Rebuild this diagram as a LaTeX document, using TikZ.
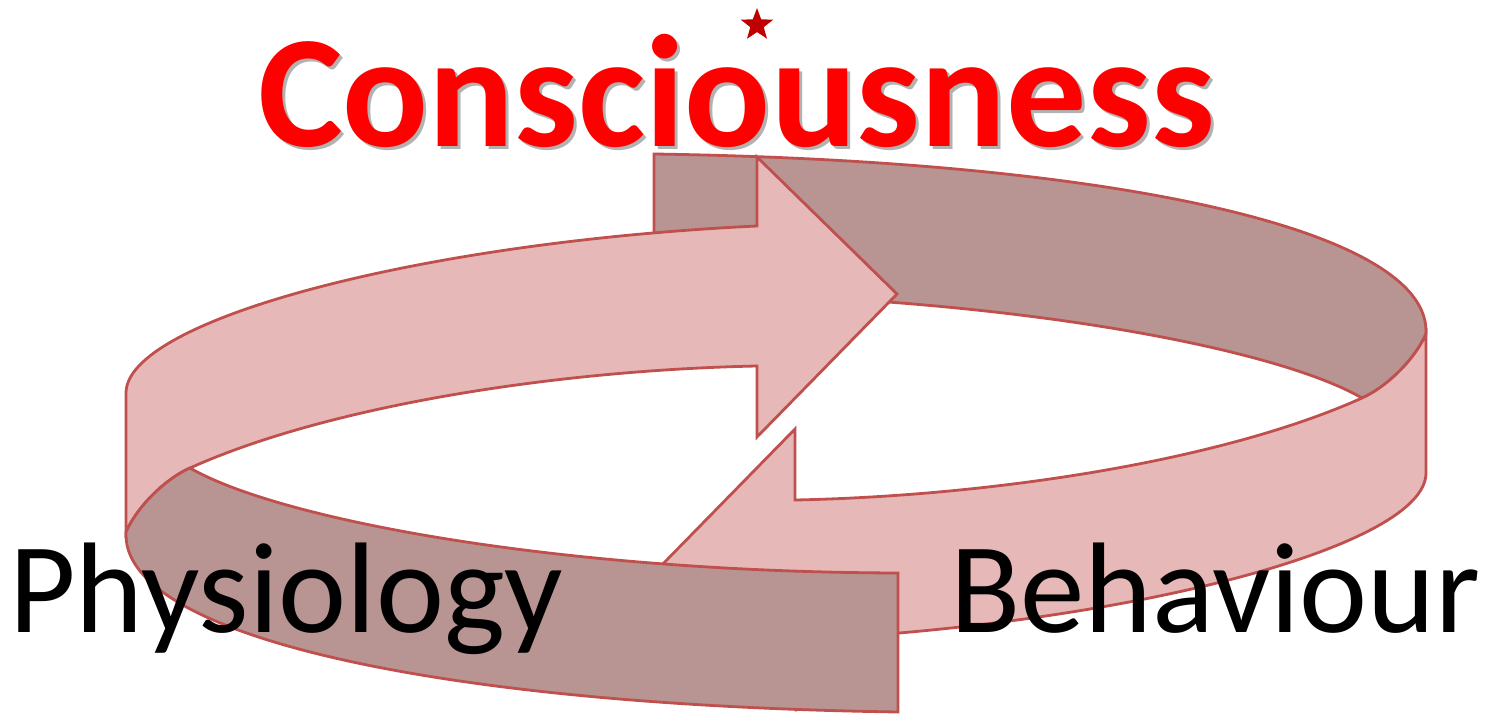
\documentclass[tikz,border=0pt]{standalone}
\usepackage{fontspec}
\setmainfont{Carlito}
\usetikzlibrary{shapes.geometric}
\definecolor{lightfill}{HTML}{E6B9B8}
\definecolor{darkfill}{HTML}{B89492}
\definecolor{edgecol}{HTML}{C0504D}
\definecolor{titlered}{HTML}{FF0000}
\definecolor{starred}{HTML}{C00000}
\tikzset{
  lightpart/.style={fill=lightfill, draw=edgecol, line width=2.8pt, line join=miter},
  darkpart/.style={fill=darkfill, draw=edgecol, line width=2.8pt, line join=miter},
  labeltext/.style={inner sep=0pt, anchor=base west, font=\fontsize{129}{134}\selectfont},
}
\begin{document}
\begin{tikzpicture}[x=1pt,y=-1pt]
\useasboundingbox (0,0) rectangle (1492,714);
% ---- arrow B (rotated copy, drawn first) ----
\begin{scope}[rotate around={180:(776,433)}]
  \path[darkpart] (126,532) .. controls (138,505) and (167,478) .. (190,468)
     .. controls (280,520) and (560,572) .. (898,573) -- (898,712)
     .. controls (430,705) and (126,635) .. (126,535) -- cycle;
  \path[lightpart] (126,393) .. controls (126,320) and (420,242) .. (757,226)
     -- (757,157) -- (897,294) -- (757,437) -- (757,366)
     .. controls (560,370) and (330,405) .. (190,468)
     .. controls (167,478) and (138,505) .. (126,532) -- cycle;
\end{scope}
% ---- arrow A ----
\path[lightpart] (126,393) .. controls (126,320) and (420,242) .. (757,226)
   -- (757,157) -- (897,294) -- (757,437) -- (757,366)
   .. controls (560,370) and (330,405) .. (190,468)
   .. controls (167,478) and (138,505) .. (126,532) -- cycle;
\path[darkpart] (126,532) .. controls (138,505) and (167,478) .. (190,468)
   .. controls (280,520) and (560,572) .. (898,573) -- (898,712)
   .. controls (430,705) and (126,635) .. (126,535) -- cycle;
% ---- title (with its soft shadow in the same node) ----
\node[inner sep=0pt, anchor=base west, text=titlered,
      font=\bfseries\fontsize{160}{162}\selectfont] (title) at (258,147)
  {\makebox[0pt][l]{\hspace{3pt}\raisebox{-3pt}{\textcolor{black!30}{Consciousness}}}Consciousness};
\node[star, star points=5, star point ratio=2.4, fill=starred, inner sep=0pt,
      minimum size=34pt] (mark) at (757,25) {};
% ---- labels ----
\node[labeltext] (physiology) at (9,632) {Physiology};
\node[labeltext] (behaviour) at (950,632) {Behaviour};
\end{tikzpicture}
\end{document}
